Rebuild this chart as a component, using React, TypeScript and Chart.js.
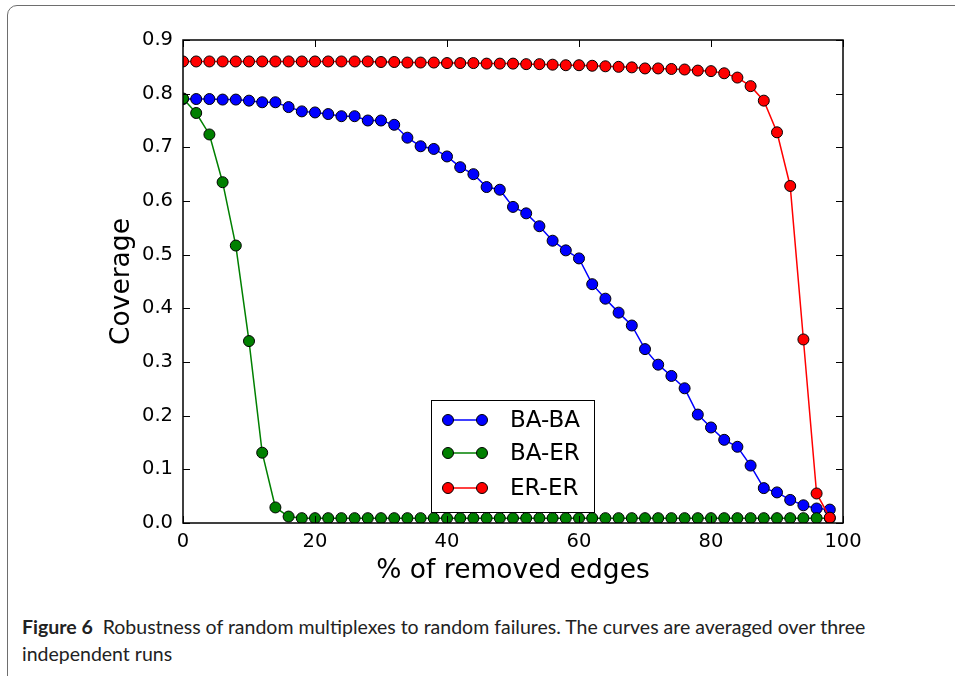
import React, { useEffect, useRef } from "react";
import { Chart, registerables } from "chart.js";

Chart.register(...registerables);

const removedPct = [
  0, 2, 4, 6, 8, 10, 12, 14, 16, 18, 20, 22, 24, 26, 28, 30, 32, 34, 36, 38,
  40, 42, 44, 46, 48, 50, 52, 54, 56, 58, 60, 62, 64, 66, 68, 70, 72, 74, 76, 78,
  80, 82, 84, 86, 88, 90, 92, 94, 96, 98,
];

const baBa = [
  0.79, 0.79, 0.79, 0.789, 0.789, 0.787, 0.784, 0.784, 0.775, 0.767,
  0.765, 0.762, 0.758, 0.758, 0.75, 0.75, 0.742, 0.718, 0.702, 0.697,
  0.683, 0.663, 0.65, 0.626, 0.621, 0.589, 0.577, 0.553, 0.526, 0.508,
  0.493, 0.445, 0.418, 0.392, 0.368, 0.324, 0.295, 0.274, 0.251, 0.202,
  0.178, 0.155, 0.142, 0.107, 0.065, 0.057, 0.043, 0.033, 0.027, 0.025,
];

const baEr = [
  0.791, 0.764, 0.724, 0.635, 0.517, 0.339, 0.131, 0.029, 0.012, 0.009,
  0.009, 0.009, 0.009, 0.009, 0.009, 0.009, 0.009, 0.009, 0.009, 0.009,
  0.009, 0.009, 0.009, 0.009, 0.009, 0.009, 0.009, 0.009, 0.009, 0.009,
  0.009, 0.009, 0.009, 0.009, 0.009, 0.009, 0.009, 0.009, 0.009, 0.009,
  0.009, 0.009, 0.009, 0.009, 0.009, 0.009, 0.009, 0.009, 0.009, 0.009,
];

const erEr = [
  0.86, 0.86, 0.86, 0.86, 0.86, 0.86, 0.86, 0.86, 0.86, 0.86,
  0.86, 0.86, 0.86, 0.86, 0.86, 0.859, 0.859, 0.858, 0.858, 0.858,
  0.857, 0.857, 0.857, 0.856, 0.856, 0.856, 0.855, 0.855, 0.854, 0.853,
  0.853, 0.852, 0.851, 0.85, 0.849, 0.847, 0.847, 0.846, 0.845, 0.843,
  0.842, 0.838, 0.83, 0.814, 0.787, 0.728, 0.628, 0.342, 0.055, 0.01,
];

const seriesNames = ["BA-BA", "BA-ER", "ER-ER"];
const seriesColors = ["#0000ff", "#008000", "#ff0000"];
const xTickValues = [0, 20, 40, 60, 80, 100];
const yTickValues = [0, 0.1, 0.2, 0.3, 0.4, 0.5, 0.6, 0.7, 0.8, 0.9];
const xTitle = "% of removed edges";
const yTitle = "Coverage";

const FONT = "'DejaVu Sans', sans-serif";

const framePlugin = {
  id: "mplFrame",
  afterDatasetsDraw(chart: any) {
    const { ctx, chartArea: a, scales } = chart;
    ctx.save();
    ctx.strokeStyle = "#000";
    ctx.lineWidth = 1;
    const tl = 7;
    for (const v of xTickValues) {
      const px = Math.round(scales.x.getPixelForValue(v)) + 0.5;
      ctx.beginPath();
      ctx.moveTo(px, a.bottom);
      ctx.lineTo(px, a.bottom - tl);
      ctx.moveTo(px, a.top);
      ctx.lineTo(px, a.top + tl);
      ctx.stroke();
    }
    for (const v of yTickValues) {
      const py = Math.round(scales.y.getPixelForValue(v)) + 0.5;
      ctx.beginPath();
      ctx.moveTo(a.left, py);
      ctx.lineTo(a.left + tl, py);
      ctx.moveTo(a.right, py);
      ctx.lineTo(a.right - tl, py);
      ctx.stroke();
    }
    ctx.lineWidth = 1.5;
    ctx.strokeRect(a.left, a.top, a.right - a.left, a.bottom - a.top);

    // axis titles
    ctx.fillStyle = "#000";
    ctx.font = `26.5px ${FONT}`;
    ctx.textAlign = "center";
    ctx.textBaseline = "middle";
    ctx.fillText(xTitle, (a.left + a.right) / 2, a.bottom + 48);
    ctx.save();
    ctx.translate(a.left - 61, (a.top + a.bottom) / 2);
    ctx.rotate(-Math.PI / 2);
    ctx.fillText(yTitle, 0, 0);
    ctx.restore();

    // legend
    const bx = a.left + 248;
    const by = a.bottom - 123;
    const bw = 163;
    const bh = 112;
    ctx.fillStyle = "#fff";
    ctx.fillRect(bx, by, bw, bh);
    ctx.lineWidth = 1;
    ctx.strokeStyle = "#000";
    ctx.strokeRect(bx + 0.5, by + 0.5, bw, bh);
    const rowY = [20, 53, 88];
    seriesNames.forEach((name, i) => {
      const y = by + rowY[i];
      const x1 = bx + 17;
      const x2 = bx + 51;
      ctx.strokeStyle = seriesColors[i];
      ctx.lineWidth = 1.5;
      ctx.beginPath();
      ctx.moveTo(x1, y);
      ctx.lineTo(x2, y);
      ctx.stroke();
      for (const cx of [x1, x2]) {
        ctx.beginPath();
        ctx.arc(cx, y, 5.5, 0, Math.PI * 2);
        ctx.fillStyle = seriesColors[i];
        ctx.fill();
        ctx.strokeStyle = "#000";
        ctx.lineWidth = 1;
        ctx.stroke();
      }
      ctx.fillStyle = "#000";
      ctx.font = `23px ${FONT}`;
      ctx.textAlign = "left";
      ctx.textBaseline = "middle";
      ctx.fillText(name, bx + 79, y + 1);
    });
    ctx.restore();
  },
};

function ChartView() {
  const ref = useRef<HTMLCanvasElement | null>(null);
  useEffect(() => {
    if (!ref.current) return;
    const series = [baBa, baEr, erEr];
    const chart = new Chart(ref.current, {
      type: "line",
      data: {
        datasets: series.map((vals, i) => ({
          label: seriesNames[i],
          data: vals.map((v, j) => ({ x: removedPct[j], y: v })),
          borderColor: seriesColors[i],
          backgroundColor: seriesColors[i],
          pointBackgroundColor: seriesColors[i],
          pointBorderColor: "#000",
          pointBorderWidth: 1,
          pointRadius: 5.5,
          borderWidth: 1.5,
          tension: 0,
          fill: false,
          clip: 0,
          order: 2 - i,
        })),
      },
      options: {
        animation: false,
        responsive: false,
        maintainAspectRatio: false,
        events: [],
        layout: { padding: { left: 0, right: 112, top: 40, bottom: 0 } },
        plugins: {
          legend: { display: false },
          tooltip: { enabled: false },
          title: { display: false },
        },
        scales: {
          x: {
            type: "linear",
            min: 0,
            max: 100,
            border: { display: false },
            grid: { display: false, drawTicks: false },
            afterBuildTicks: (s: any) => {
              s.ticks = xTickValues.map((v) => ({ value: v }));
            },
            afterFit: (s: any) => {
              s.height = 77;
            },
            ticks: {
              color: "#000",
              padding: 7,
              maxRotation: 0,
              autoSkip: false,
              font: { family: FONT, size: 19.5 },
              callback: (v: any) => String(v),
            },
          },
          y: {
            type: "linear",
            min: 0,
            max: 0.9,
            border: { display: false },
            grid: { display: false, drawTicks: false },
            afterBuildTicks: (s: any) => {
              s.ticks = yTickValues.map((v) => ({ value: v }));
            },
            afterFit: (s: any) => {
              s.width = 183;
            },
            ticks: {
              color: "#000",
              padding: 10,
              autoSkip: false,
              font: { family: FONT, size: 19.5 },
              callback: (v: any) => Number(v).toFixed(1),
            },
          },
        },
      },
      plugins: [framePlugin],
    } as any);
    return () => chart.destroy();
  }, []);
  return (
    <canvas
      ref={ref}
      width={955}
      height={600}
      style={{ position: "absolute", left: 0, top: 0, width: 955, height: 600 }}
    />
  );
}

export default function App() {
  useEffect(() => {
    document.body.style.margin = "0";
  }, []);
  return (
    <div
      style={{
        position: "relative",
        width: 955,
        height: 676,
        overflow: "hidden",
        background: "#fff",
      }}
    >
      <div
        style={{
          position: "absolute",
          left: 7,
          top: 5,
          width: 1000,
          height: 690,
          border: "1.5px solid #6e6e6e",
          borderRadius: 10,
          boxSizing: "border-box",
        }}
      />
      <ChartView />
      <div
        style={{
          position: "absolute",
          left: 22,
          top: 613,
          width: 920,
          fontFamily: "Lato, sans-serif",
          fontSize: 19.5,
          lineHeight: "27px",
          color: "#222",
          whiteSpace: "nowrap",
        }}
      >
        <span style={{ fontWeight: 700 }}>Figure 6</span>
        <span>&nbsp;&nbsp;Robustness of random multiplexes to random failures. The curves are averaged over three</span>
        <br />
        <span>independent runs</span>
      </div>
    </div>
  );
}
